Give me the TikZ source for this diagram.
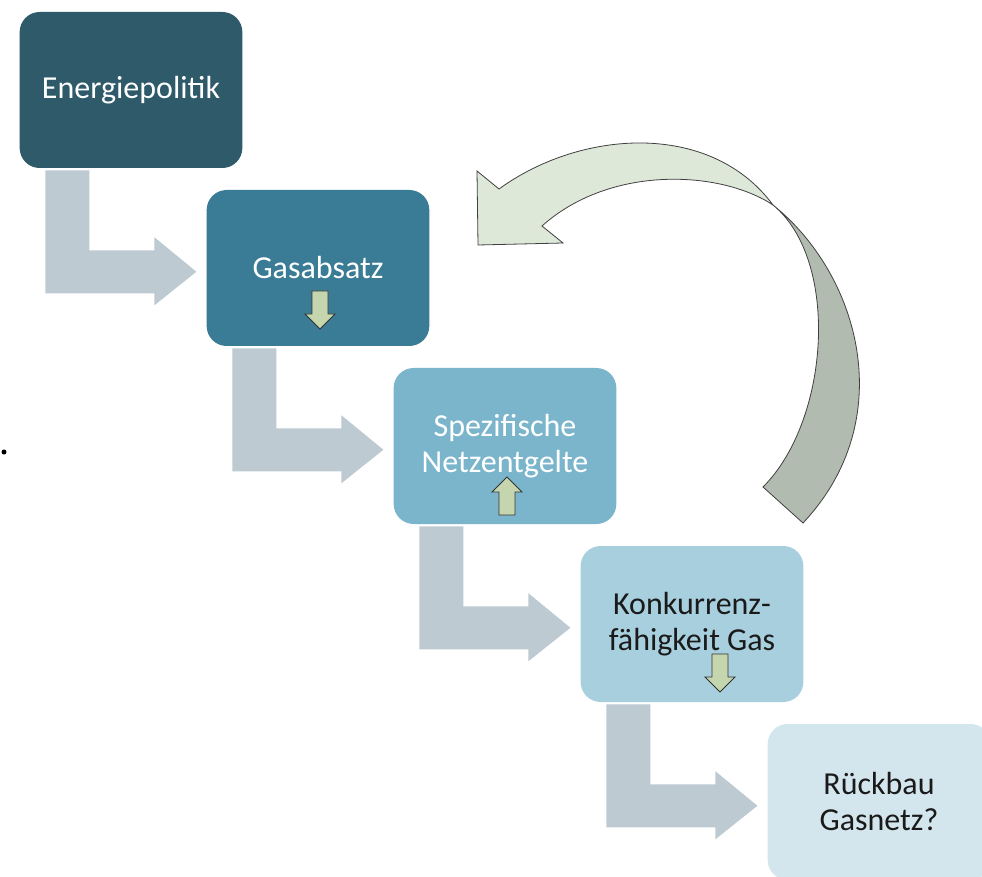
\documentclass[tikz,border=0pt]{standalone}
\usepackage{fontspec}
\setmainfont{Carlito}
\definecolor{boxA}{HTML}{2E5A6A}
\definecolor{boxB}{HTML}{3A7C95}
\definecolor{boxC}{HTML}{7BB5CC}
\definecolor{boxD}{HTML}{A7CFDD}
\definecolor{boxE}{HTML}{D4E6ED}
\definecolor{bentgray}{HTML}{BDCAD2}
\definecolor{smallgreen}{HTML}{C5D6AE}
\definecolor{loopfront}{HTML}{DDE8D8}
\definecolor{loopback}{HTML}{B2BBAF}
\definecolor{darktext}{HTML}{1A1A1A}
\tikzset{
  box/.style={rounded corners=15pt, inner sep=0pt, minimum width=167pt,
    minimum height=117pt, align=center, font=\fontsize{24}{27}\selectfont},
  bentarrow/.style={fill=bentgray},
  smallarrow/.style={draw=black!80, fill=smallgreen, line width=0.6pt},
  loopedge/.style={draw=black!75, line width=0.6pt},
  dnarrow/.pic={\draw[smallarrow] (-8,0) -- (8,0) -- (8,23) -- (15,23) -- (0,38)
    -- (-15,23) -- (-8,23) -- cycle;}
}
\begin{document}
\begin{tikzpicture}[x=0.75pt,y=-0.75pt]
  \useasboundingbox[fill=white] (0,0) rectangle (982,877);
  % Boxes, one step down and right each time.
  \node[box, fill=boxA, text=white] (e) at (131,90) {Energiepolitik};
  \node[box, fill=boxB, text=white] (g) at (318,268) {Gasabsatz};
  \node[box, fill=boxC, text=white] (s) at (505,446) {Spezifische\\Netzentgelte};
  \node[box, fill=boxD, text=darktext] (k) at (692,624) {Konkurrenz-\\fähigkeit Gas};
  \node[box, fill=boxE, text=darktext] (r) at (879,802) {Rückbau\\Gasnetz?};
  % Bent arrows from each box to the next.
  \foreach \a in {e,g,s,k} {
    \begin{scope}[shift={(\a.south west)}]
      \fill[bentarrow] (26,2) -- (70,2) -- (70,82) -- (135,82) -- (135,69)
        -- (177,103.5) -- (135,137) -- (135,125) -- (26,125) -- cycle;
    \end{scope}
  }
  % Small arrows inside the boxes.
  \pic at ([shift={(2,23)}]g.center) {dnarrow};
  \pic[rotate=180] at ([shift={(2,69)}]s.center) {dnarrow};
  \pic at ([shift={(28,30)}]k.center) {dnarrow};
  % Loop arrow back to Gasabsatz: back part first, then front part.
  \coordinate (twist) at (773,205);
  \path[loopedge, fill=loopback] (twist)
    .. controls (860,275) and (900,420) .. (803,523) -- (763,487)
    .. controls (830,420) and (840,260) .. (twist) -- cycle;
  \path[loopedge, fill=loopfront] (499,189)
    .. controls (580,130) and (710,120) .. (twist)
    .. controls (720,170) and (610,165) .. (542,226)
    -- (563,243) -- (478,245) -- (477,171) -- cycle;
  % Stray dot at the left edge.
  \fill (4,452) circle (2.5);
\end{tikzpicture}
\end{document}
